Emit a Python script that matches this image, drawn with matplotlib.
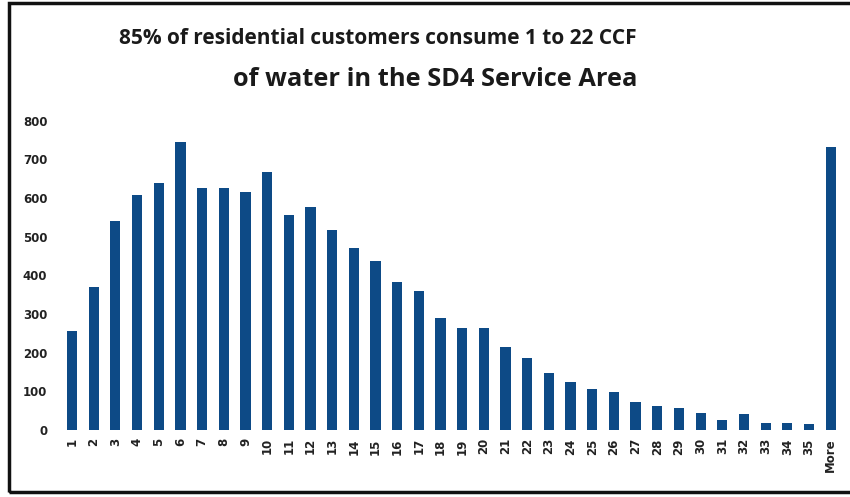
import matplotlib.pyplot as plt
from matplotlib.patches import Rectangle

# usage bins (CCF) and number of residential customers
bins = [str(i) for i in range(1, 36)] + ['More']
customers = [255, 370, 540, 608, 640, 745, 627, 625, 615, 668,
             555, 578, 517, 472, 436, 383, 360, 290, 263, 263,
             215, 187, 146, 123, 107, 97, 73, 63, 57, 44,
             25, 42, 18, 18, 14, 733]
yticks = [0, 100, 200, 300, 400, 500, 600, 700, 800]

title_1 = "85% of residential customers consume 1 to 22 CCF"
title_2 = "of water in the SD4 Service Area"

fig = plt.figure(figsize=(8.5, 4.97), dpi=100)
ax = fig.add_axes([0.072, 0.135, 0.918, 0.622])

ax.bar(range(len(bins)), customers, width=0.47, color='#0d4a86')
ax.set_xlim(-0.5, len(bins) - 0.5)
ax.set_ylim(0, 800)
ax.set_yticks(yticks)
ax.set_yticklabels([str(v) for v in yticks], fontsize=8.5, fontweight='bold', color='#222222')
ax.set_xticks(range(len(bins)))
ax.set_xticklabels(bins, rotation=90, fontsize=8.5, fontweight='bold', color='#222222')
ax.tick_params(length=0, pad=10)
ax.tick_params(axis='x', pad=6)
for s in ax.spines.values():
    s.set_visible(False)

# second title line is set a little larger in the original
fig.text(0.445, 1 - 38 / 497, title_1, ha='center', va='center', fontsize=15,
         fontweight='bold', family='Open Sans', color='#1a1a1a')
fig.text(0.512, 1 - 79 / 497, title_2, ha='center', va='center', fontsize=18.3,
         fontweight='bold', family='Open Sans', color='#1a1a1a')

# frame around the chart
fig.patches.append(Rectangle((0.010, 0.010), 1.2, 0.983, transform=fig.transFigure,
                             fill=False, edgecolor='#111111', linewidth=2.5))

fig.savefig('out.png', dpi=100)
